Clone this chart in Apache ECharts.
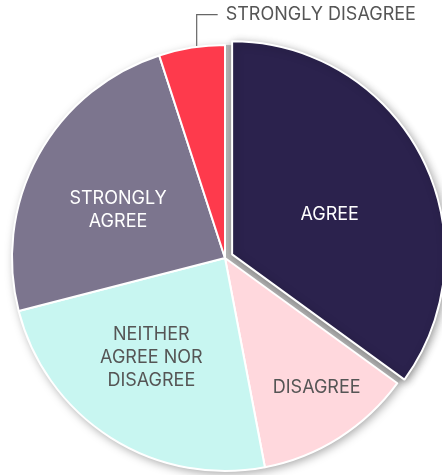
<!DOCTYPE html>
<html>
<head>
<meta charset="utf-8">
<script src="https://cdn.jsdelivr.net/npm/echarts@6/dist/echarts.min.js"></script>
<style>
  html, body { margin: 0; padding: 0; background: #fff; }
  #chart { width: 442px; height: 475px; }
</style>
</head>
<body>
<div id="chart"></div>
<script>
// Survey answers, in drawing order (clockwise from 12 o'clock)
const categories = ['AGREE', 'DISAGREE', 'NEITHER\nAGREE NOR\nDISAGREE', 'STRONGLY\nAGREE', 'STRONGLY DISAGREE'];
const values = [35, 12, 24, 24, 5];
const sliceColors = ['#2b224d', '#ffd8dd', '#c8f6f1', '#7c758e', '#fe3a4c'];
const labelColors = ['#ffffff', '#555555', '#555555', '#ffffff', '#555555'];

const chart = echarts.init(document.getElementById('chart'), null, { renderer: 'canvas' });

const FONT = 'Inter, "Noto Sans", sans-serif';
// nudges applied to the inside labels
const labelNudge = [[-9, 4], [33, 37], [-15, 7], [-11, 5], [0, 0]];

const pieData = categories.map((name, i) => {
  const label = {
    color: labelColors[i],
    position: i === 4 ? 'outside' : 'inside',
    offset: labelNudge[i]
  };
  const item = {
    name: name,
    value: values[i],
    itemStyle: { color: sliceColors[i] },
    label: label,
    select: { label: label },
    labelLine: { show: i === 4 }
  };
  if (i === 0) {
    item.selected = true;
    item.itemStyle.shadowBlur = 8;
    item.itemStyle.shadowColor = 'rgba(0,0,0,0.3)';
    item.itemStyle.shadowOffsetX = 2;
    item.itemStyle.shadowOffsetY = 2;
  }
  return item;
});

chart.setOption({
  animation: false,
  backgroundColor: '#ffffff',
  series: [
    {
      // grey disc underneath, carries the drop shadow
      type: 'pie',
      silent: true,
      center: [225, 258],
      radius: 213,
      z: 1,
      label: { show: false },
      labelLine: { show: false },
      emphasis: { disabled: true },
      itemStyle: {
        color: '#b5b5b5',
        shadowBlur: 10,
        shadowColor: 'rgba(0,0,0,0.35)',
        shadowOffsetX: 2,
        shadowOffsetY: 3
      },
      data: [{ value: 1 }]
    },
    {
      type: 'pie',
      center: [225, 258],
      radius: 213,
      z: 2,
      startAngle: 90,
      clockwise: true,
      selectedMode: 'single',
      selectedOffset: 8,
      avoidLabelOverlap: false,
      emphasis: { disabled: true },
      itemStyle: { borderColor: '#ffffff', borderWidth: 2 },
      label: {
        show: true,
        fontFamily: FONT,
        fontSize: 18,
        lineHeight: 23,
        align: 'center',
        formatter: '{b}'
      },
      labelLine: {
        show: false,
        lineStyle: { color: '#666666', width: 1.2 }
      },
      labelLayout: function (p) {
        if (p.dataIndex !== 4 || !p.labelLinePoints) return {};
        const s = p.labelLinePoints[0];
        const x0 = s[0] + 5, y0 = s[1] + 14;
        const yTop = s[1] - 33;
        const xEnd = x0 + 21;
        return {
          x: xEnd + 8,
          y: yTop,
          align: 'left',
          verticalAlign: 'middle',
          labelLinePoints: [[x0, y0], [x0, yTop], [xEnd, yTop]]
        };
      },
      data: pieData
    }
  ]
});
</script>
</body>
</html>
